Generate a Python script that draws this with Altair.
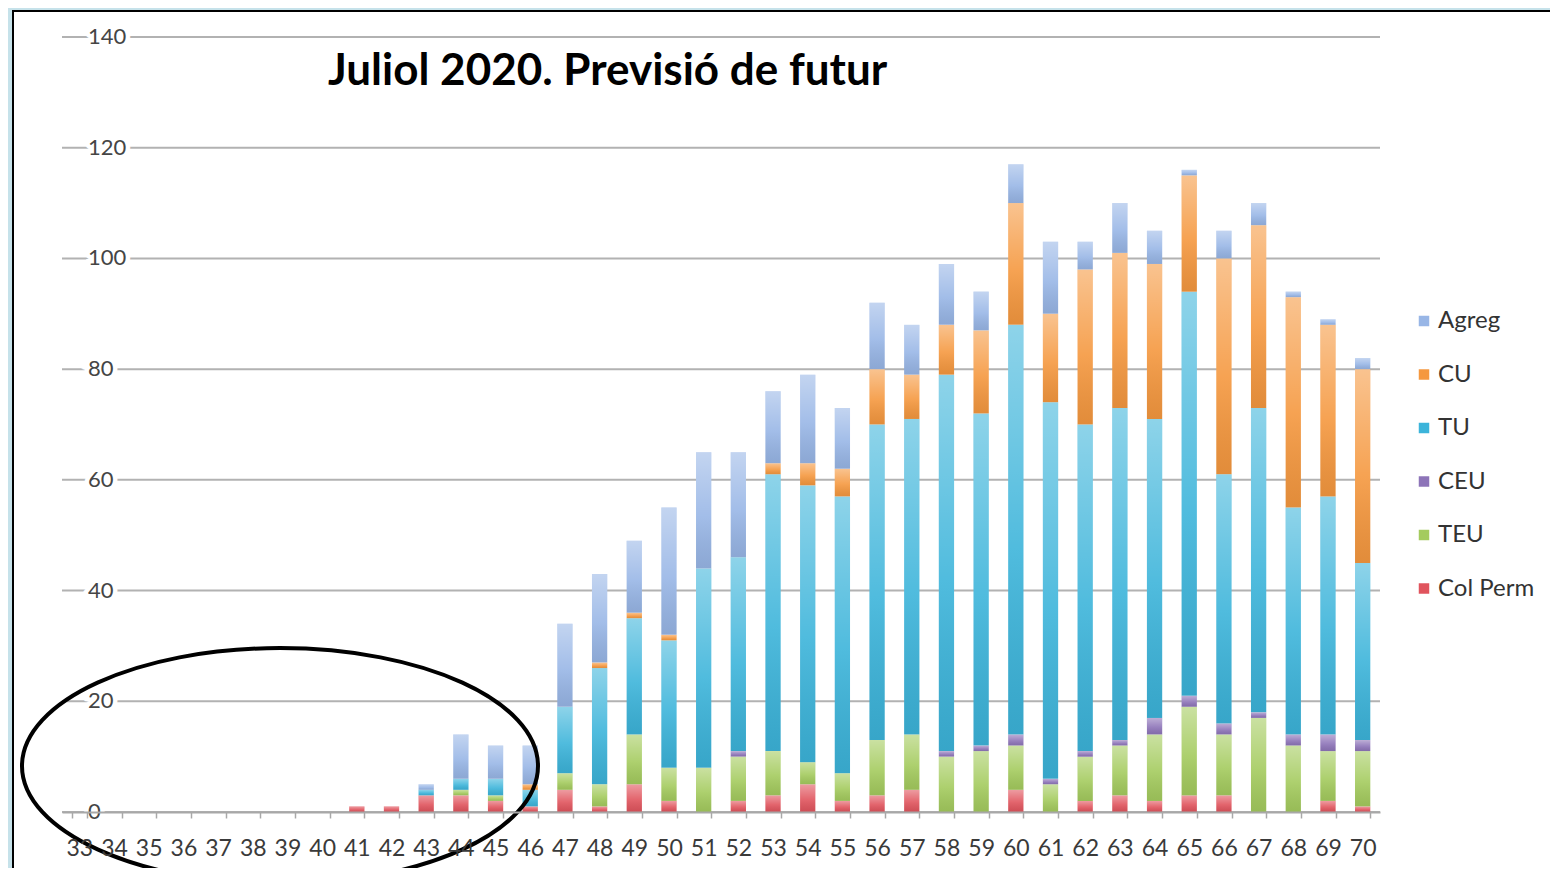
import altair as alt
import pandas as pd

# ---------------- data ----------------
ages = list(range(33, 71))
stack_order = ["Col Perm", "TEU", "CEU", "TU", "CU", "Agreg"]
col_perm = [0, 0, 0, 0, 0, 0, 0, 0, 1, 1, 3, 3, 2, 1, 4, 1, 5, 2, 0, 2, 3, 5, 2, 3, 4, 0, 0, 4, 0, 2, 3, 2, 3, 3, 0, 0, 2, 1]
teu = [0, 0, 0, 0, 0, 0, 0, 0, 0, 0, 0, 1, 1, 0, 3, 4, 9, 6, 8, 8, 8, 4, 5, 10, 10, 10, 11, 8, 5, 8, 9, 12, 16, 11, 17, 12, 9, 10]
ceu = [0, 0, 0, 0, 0, 0, 0, 0, 0, 0, 0, 0, 0, 0, 0, 0, 0, 0, 0, 1, 0, 0, 0, 0, 0, 1, 1, 2, 1, 1, 1, 3, 2, 2, 1, 2, 3, 2]
tu = [0, 0, 0, 0, 0, 0, 0, 0, 0, 0, 1, 2, 3, 3, 12, 21, 21, 23, 36, 35, 50, 50, 50, 57, 57, 68, 60, 74, 68, 59, 60, 54, 73, 45, 55, 41, 43, 32]
cu = [0, 0, 0, 0, 0, 0, 0, 0, 0, 0, 0, 0, 0, 1, 0, 1, 1, 1, 0, 0, 2, 4, 5, 10, 8, 9, 15, 22, 16, 28, 28, 28, 21, 39, 33, 38, 31, 35]
agreg = [0, 0, 0, 0, 0, 0, 0, 0, 0, 0, 1, 8, 6, 7, 15, 16, 13, 23, 21, 19, 13, 16, 11, 12, 9, 11, 7, 7, 13, 5, 9, 6, 1, 5, 4, 1, 1, 2]
series = [col_perm, teu, ceu, tu, cu, agreg]

legend_order = ["Agreg", "CU", "TU", "CEU", "TEU", "Col Perm"]
legend_colors = ["#98b6e6", "#f5983f", "#3cb4da", "#8d74b8", "#a4cb5e", "#e0545d"]
y_ticks = [0, 20, 40, 60, 80, 100, 120, 140]
title_text = "Juliol 2020. Previsió de futur"

rows = []
for i, a in enumerate(ages):
    for k, (cat, vals) in enumerate(zip(stack_order, series)):
        rows.append({"age": str(a), "cat": cat, "idx": k, "value": vals[i]})
df = pd.DataFrame(rows)

FONT = "Lato"
W, H = 1318, 775

xscale = alt.Scale(domain=[str(a) for a in ages], paddingInner=0.56, paddingOuter=0.28)
yscale = alt.Scale(domain=[0, 140], nice=False, zero=True)

x_enc = alt.X(
    "age:N", scale=xscale, sort=None,
    axis=alt.Axis(title=None, labelAngle=0, tickBand="extent", grid=False,
                  domainColor="#a8a8a8", domainWidth=2, tickColor="#a8a8a8",
                  tickWidth=1.5, tickSize=6, labelPadding=19, labelFont=FONT,
                  labelFontSize=23, labelColor="#3a3a3a", zindex=1),
)
y_enc = alt.Y(
    "value:Q", stack="zero", scale=yscale,
    axis=alt.Axis(title=None, labels=False, ticks=False, grid=False,
                  domainColor="#a8a8a8", domainWidth=2, zindex=1),
)

one = pd.DataFrame({"a": [0]})

frame = alt.Chart(one).mark_rect(fill="white", stroke="black", strokeWidth=2).encode(
    x=alt.value(-49), x2=alt.value(W + 220), y=alt.value(-26), y2=alt.value(H + 120)
)

ticks_df = pd.DataFrame({"v": y_ticks})
grid = alt.Chart(ticks_df).mark_rule(color="#b2b2b2", strokeWidth=2).encode(
    y=alt.Y("v:Q", scale=yscale, axis=None)
)
knock = alt.Chart(ticks_df).mark_text(
    align="left", baseline="middle", font=FONT, fontSize=22,
    fill="white", stroke="white", strokeWidth=9
).encode(x=alt.value(26), y=alt.Y("v:Q", scale=yscale, axis=None), text="v:Q")
ylabels = alt.Chart(ticks_df).mark_text(
    align="left", baseline="middle", font=FONT, fontSize=22, color="#454545"
).encode(x=alt.value(26), y=alt.Y("v:Q", scale=yscale, axis=None), text="v:Q")

bars = alt.Chart(df).transform_filter("datum.value > 0").mark_bar().encode(
    x=x_enc,
    y=y_enc,
    color=alt.Color(
        "cat:N",
        scale=alt.Scale(domain=legend_order, range=legend_colors),
        legend=alt.Legend(title=None, orient="none", legendX=1350, legendY=272,
                          symbolType="square", symbolSize=110, symbolStrokeWidth=0,
                          labelFont=FONT, labelFontSize=24, labelColor="#333333",
                          rowPadding=29.5, labelOffset=2, padding=0),
    ),
    order=alt.Order("idx:Q", sort="ascending"),
)

gradient = {
    "gradient": "linear", "x1": 0, "y1": 0, "x2": 0, "y2": 1,
    "stops": [
        {"offset": 0, "color": "rgba(255,255,255,0.42)"},
        {"offset": 0.55, "color": "rgba(255,255,255,0.1)"},
        {"offset": 1, "color": "rgba(0,0,0,0.08)"},
    ],
}
shine = alt.Chart(df).transform_filter("datum.value > 0").mark_bar(fill=gradient).encode(
    x=alt.X("age:N", scale=xscale, sort=None),
    y=alt.Y("value:Q", stack="zero", scale=yscale),
    order=alt.Order("idx:Q", sort="ascending"),
)

title = alt.Chart(one).mark_text(
    text=title_text, align="left", baseline="alphabetic",
    font=FONT, fontSize=44, fontWeight="bold", color="black"
).encode(x=alt.value(266), y=alt.value(48))

ry = 0.457
c = 0.5523
ell_path = (
    f"M -1 0 C -1 {-c*ry:.4f} {-c:.4f} {-ry} 0 {-ry} "
    f"C {c:.4f} {-ry} 1 {-c*ry:.4f} 1 0 "
    f"C 1 {c*ry:.4f} {c:.4f} {ry} 0 {ry} "
    f"C {-c:.4f} {ry} -1 {c*ry:.4f} -1 0 Z"
)
ellipse = alt.Chart(one).mark_point(
    shape=ell_path, filled=False, stroke="black", strokeWidth=4, size=516 * 516, opacity=1
).encode(x=alt.value(218), y=alt.value(729))

chart = alt.layer(frame, grid, knock, ylabels, bars, shine, title, ellipse).properties(
    width=W, height=H,
    autosize=alt.AutoSizeParams(type="none"),
    padding={"left": 54, "top": 29, "right": 170, "bottom": 56},
    background="#c6e2ea",
).configure_view(stroke=None)

chart.save("out.html", embed_options={"renderer": "svg", "actions": False})
